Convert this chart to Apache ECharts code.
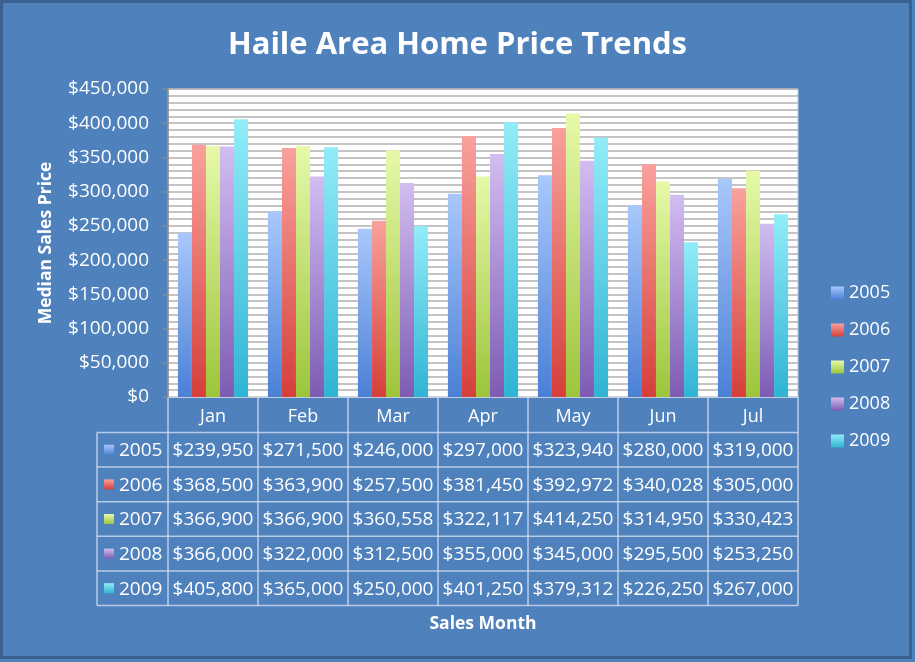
<!DOCTYPE html>
<html>
<head>
  <meta charset="utf-8">
  <title>Haile Area Home Price Trends</title>
  <script src="https://cdn.jsdelivr.net/npm/echarts@6/dist/echarts.min.js"></script>
  <style>
    html, body { margin: 0; padding: 0; background: #fff; }
    #main { width: 915px; height: 662px; }
  </style>
</head>
<body>
<div id="main"></div>
<script>
  // data
  const months = ['Jan', 'Feb', 'Mar', 'Apr', 'May', 'Jun', 'Jul'];
  const years = ['2005', '2006', '2007', '2008', '2009'];
  const prices2005 = [239950, 271500, 246000, 297000, 323940, 280000, 319000];
  const prices2006 = [368500, 363900, 257500, 381450, 392972, 340028, 305000];
  const prices2007 = [366900, 366900, 360558, 322117, 414250, 314950, 330423];
  const prices2008 = [366000, 322000, 312500, 355000, 345000, 295500, 253250];
  const prices2009 = [405800, 365000, 250000, 401250, 379312, 226250, 267000];
  const yTicks = [0, 450000, 50000]; // min, max, interval

  const allPrices = [prices2005, prices2006, prices2007, prices2008, prices2009];

  // top / bottom colours of each bar gradient
  const barColors = [
    ['#a9c8fb', '#4b80d6'],
    ['#f9a19c', '#d53f3b'],
    ['#e6f9a9', '#9cc53b'],
    ['#d2bdf1', '#7e5bb4'],
    ['#92ecf8', '#2fb4d4']
  ];

  const FONT = '"Open Sans", sans-serif';
  const BG = '#4f81bd';
  const LINE = 'rgba(220,230,245,0.75)';

  function grad(c) {
    return new echarts.graphic.LinearGradient(0, 0, 0, 1, [
      { offset: 0, color: c[0] },
      { offset: 1, color: c[1] }
    ]);
  }

  function money(v) {
    return '$' + v.toString().replace(/\B(?=(\d{3})+(?!\d))/g, ',');
  }

  const myChart = echarts.init(document.getElementById('main'));

  const option = {
    animation: false,
    backgroundColor: BG,
    textStyle: { fontFamily: FONT },
    title: {
      text: 'Haile Area Home Price Trends',
      left: 'center',
      top: 25,
      textStyle: { color: '#fff', fontSize: 31, fontWeight: 'bold', fontFamily: FONT }
    },
    legend: {
      orient: 'vertical',
      left: 826,
      top: 279,
      itemWidth: 13,
      itemHeight: 13,
      itemGap: 19,
      icon: 'rect',
      textStyle: { color: '#fff', fontSize: 18, fontFamily: FONT },
      data: years
    },
    grid: {
      left: 168,
      top: 89,
      width: 630,
      height: 308,
      show: true,
      backgroundColor: '#ffffff',
      borderColor: '#b8c8de',
      borderWidth: 1
    },
    xAxis: {
      type: 'category',
      data: months,
      axisLine: { show: false },
      axisTick: { show: false },
      axisLabel: { color: '#fff', fontSize: 18, fontFamily: FONT, margin: 11 },
      name: 'Sales Month',
      nameLocation: 'middle',
      nameGap: 218,
      nameTextStyle: { color: '#fff', fontSize: 17.5, fontWeight: 'bold', fontFamily: FONT }
    },
    yAxis: {
      type: 'value',
      min: yTicks[0],
      max: yTicks[1],
      interval: yTicks[2],
      axisLine: { show: true, lineStyle: { color: '#8a8a8a', width: 1.5 } },
      axisTick: { show: true, length: 5, lineStyle: { color: '#8a8a8a', width: 1.5 } },
      axisLabel: { color: '#fff', fontSize: 19, fontFamily: FONT, margin: 19, formatter: money },
      splitLine: { show: true, lineStyle: { color: '#b0b0b0', width: 1.6 } },
      minorTick: { show: false, splitNumber: 5 },
      minorSplitLine: { show: true, lineStyle: { color: '#b0b0b0', width: 1.6 } },
      name: 'Median Sales Price',
      nameLocation: 'middle',
      nameGap: 113,
      nameTextStyle: { color: '#fff', fontSize: 17.5, fontWeight: 'bold', fontFamily: FONT }
    },
    series: years.map(function (y, i) {
      return {
        name: y,
        type: 'bar',
        data: allPrices[i],
        barGap: '0%',
        barCategoryGap: '22%',
        itemStyle: { color: grad(barColors[i]) }
      };
    })
  };

  myChart.setOption(option);

  // data table under the plot, placed from the axis scales
  const headH = 35.5;
  const rowH = 34.6;
  const tableLeft = 97;
  const bandW = myChart.convertToPixel({ xAxisIndex: 0 }, 1) - myChart.convertToPixel({ xAxisIndex: 0 }, 0);
  const plotLeft = myChart.convertToPixel({ xAxisIndex: 0 }, 0) - bandW / 2;
  const plotRight = plotLeft + bandW * months.length;
  const plotBottom = myChart.convertToPixel({ yAxisIndex: 0 }, 0);
  const rowsTop = plotBottom + headH;
  const tableBottom = rowsTop + rowH * years.length;

  const els = [];
  function hline(x1, x2, y) {
    els.push({ type: 'line', silent: true, shape: { x1: x1, y1: y, x2: x2, y2: y }, style: { stroke: LINE, lineWidth: 1.5 } });
  }
  function vline(x, y1, y2) {
    els.push({ type: 'line', silent: true, shape: { x1: x, y1: y1, x2: x, y2: y2 }, style: { stroke: LINE, lineWidth: 1.5 } });
  }

  hline(plotLeft, plotRight, plotBottom);
  for (let r = 0; r <= years.length; r++) {
    hline(tableLeft, plotRight, rowsTop + r * rowH);
  }
  vline(tableLeft, rowsTop, tableBottom);
  for (let c = 0; c <= months.length; c++) {
    vline(plotLeft + c * bandW, plotBottom, tableBottom);
  }

  years.forEach(function (y, r) {
    const cy = rowsTop + r * rowH + rowH / 2 + 1;
    els.push({
      type: 'rect', silent: true,
      shape: { x: tableLeft + 7, y: cy - 6, width: 10, height: 10 },
      style: { fill: grad(barColors[r]) }
    });
    els.push({
      type: 'text', silent: true,
      style: { x: tableLeft + 22, y: cy, text: y, fill: '#fff', font: '19px ' + FONT, textAlign: 'left', textVerticalAlign: 'middle' }
    });
    allPrices[r].forEach(function (v, c) {
      els.push({
        type: 'text', silent: true,
        style: {
          x: myChart.convertToPixel({ xAxisIndex: 0 }, c), y: cy,
          text: money(v), fill: '#fff', font: '19px ' + FONT,
          textAlign: 'center', textVerticalAlign: 'middle'
        }
      });
    });
  });

  // dark frame round the chart
  els.push({
    type: 'rect', silent: true, z: 100,
    shape: { x: 1.5, y: 1.5, width: 909, height: 656 },
    style: { fill: 'none', stroke: '#3a6190', lineWidth: 3 }
  });

  myChart.setOption({ graphic: { elements: els } });
</script>
</body>
</html>
